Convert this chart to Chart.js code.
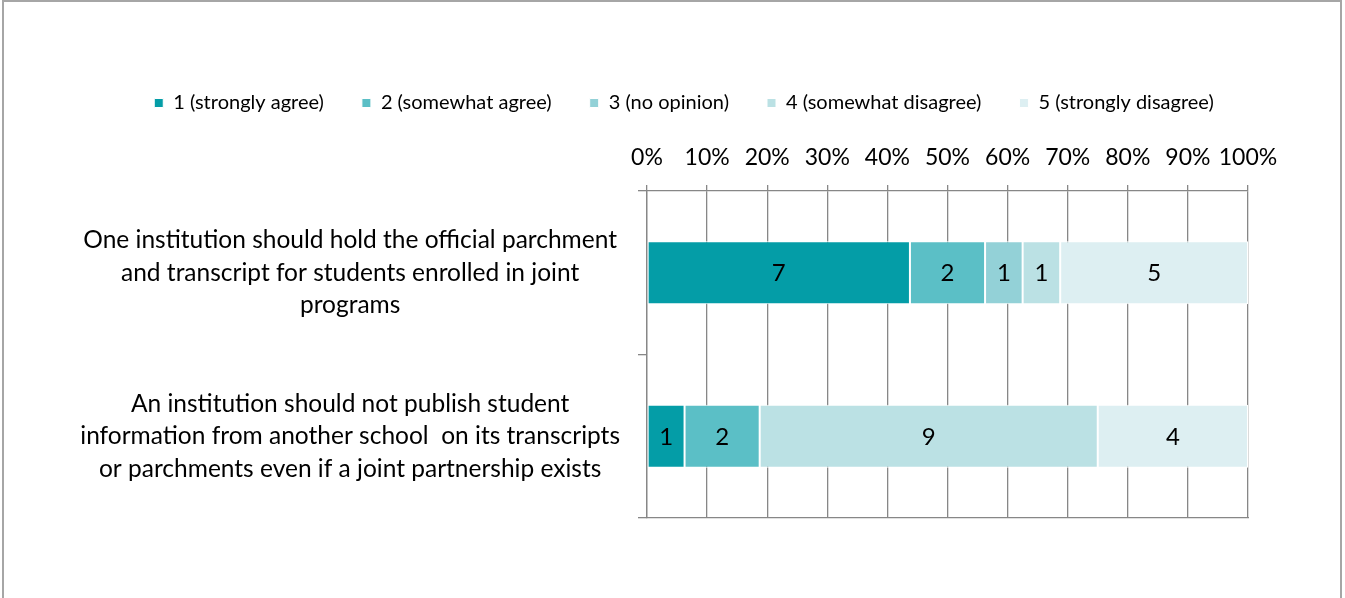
<!DOCTYPE html>
<html>
<head>
<meta charset="utf-8">
<script src="https://cdn.jsdelivr.net/npm/chart.js@4.4.1/dist/chart.umd.min.js"></script>
<style>
  html, body { margin: 0; padding: 0; background: #fff; }
  #wrap { position: relative; width: 1345px; height: 598px; overflow: hidden; }
  #frame { position: absolute; left: 2px; top: 0px; width: 1340px; height: 640px;
           border: 2px solid #a6a6a6; box-sizing: border-box; pointer-events: none; }
  canvas { position: absolute; left: 0; top: 0; }
</style>
</head>
<body>
<div id="wrap">
  <canvas id="chart" width="1345" height="598"></canvas>
  <div id="frame"></div>
</div>
<script>
// Survey statements (one bar each)
const statements = [
  ['One institution should hold the official parchment', 'and transcript for students enrolled in joint', 'programs'],
  ['An institution should not publish student', 'information from another school  on its transcripts', 'or parchments even if a joint partnership exists']
];

// Response categories
const responses = ['1 (strongly agree)', '2 (somewhat agree)', '3 (no opinion)', '4 (somewhat disagree)', '5 (strongly disagree)'];

// Number of respondents per response, per statement
const stronglyAgree    = [7, 1];
const somewhatAgree    = [2, 2];
const noOpinion        = [1, 0];
const somewhatDisagree = [1, 9];
const stronglyDisagree = [5, 4];

// Axis tick labels
const tickLabels = ['0%', '10%', '20%', '30%', '40%', '50%', '60%', '70%', '80%', '90%', '100%'];

const colors = ['#049da7', '#5bbfc6', '#93d1d7', '#bbe1e4', '#ddeff2'];

const counts = [stronglyAgree, somewhatAgree, noOpinion, somewhatDisagree, stronglyDisagree];
const totals = statements.map((_, i) => counts.reduce((s, arr) => s + arr[i], 0));

const FONT = 'Lato';
const GRID = '#878787';

const datasets = counts.map((arr, k) => ({
  label: responses[k],
  counts: arr,
  data: arr.map((v, i) => v / totals[i] * 100),
  backgroundColor: colors[k],
  borderColor: '#ffffff',
  borderWidth: 1,
  borderSkipped: false,
  categoryPercentage: 1,
  barPercentage: 0.385
}));

// Writes each segment's respondent count in its middle
const segmentLabels = {
  id: 'segmentLabels',
  afterDatasetsDraw(chart) {
    const ctx = chart.ctx;
    ctx.save();
    ctx.font = '24px ' + FONT;
    ctx.fillStyle = '#000';
    ctx.textAlign = 'center';
    ctx.textBaseline = 'middle';
    chart.data.datasets.forEach((ds, di) => {
      const meta = chart.getDatasetMeta(di);
      meta.data.forEach((bar, i) => {
        const n = ds.counts[i];
        if (!n) return;
        ctx.fillText(String(n), (bar.x + bar.base) / 2, bar.y + 1);
      });
    });
    ctx.restore();
  }
};

new Chart(document.getElementById('chart'), {
  type: 'bar',
  data: { labels: statements, datasets },
  options: {
    indexAxis: 'y',
    responsive: false,
    animation: false,
    events: [],
    layout: { padding: { top: 55, left: 40, right: 17, bottom: 80 } },
    plugins: {
      tooltip: { enabled: false },
      legend: {
        position: 'top',
        labels: {
          font: { family: FONT, size: 20 },
          color: '#000',
          boxWidth: 9,
          boxHeight: 9,
          padding: 38
        }
      }
    },
    scales: {
      x: {
        position: 'top',
        stacked: true,
        min: 0,
        max: 100,
        afterFit: s => { s.height = 68; },
        ticks: {
          stepSize: 10,
          autoSkip: false,
          maxRotation: 0,
          padding: 14,
          color: '#000',
          font: { family: FONT, size: 23 },
          callback: (v, i) => tickLabels[i]
        },
        grid: { color: GRID, lineWidth: 1.3, tickLength: 6 },
        border: { color: GRID, width: 1.3 }
      },
      xBottom: {
        type: 'linear',
        position: 'bottom',
        afterFit: s => { s.height = 0; },
        ticks: { display: false },
        grid: { display: false },
        border: { display: true, color: GRID, width: 1.3 }
      },
      y: {
        stacked: true,
        afterFit: s => { s.width = 607; },
        ticks: {
          crossAlign: 'center',
          padding: 18,
          color: '#000',
          font: { family: FONT, size: 24.5, lineHeight: 1.33 }
        },
        grid: { drawOnChartArea: false, offset: true, tickLength: 9, color: GRID, lineWidth: 1.3 },
        border: { color: GRID, width: 1.3 }
      },
      // empty margin to the right of the plot
      yRight: {
        type: 'linear',
        position: 'right',
        afterFit: s => { s.width = 80; },
        ticks: { display: false },
        grid: { display: false },
        border: { display: false }
      }
    }
  },
  plugins: [segmentLabels]
});
</script>
</body>
</html>
